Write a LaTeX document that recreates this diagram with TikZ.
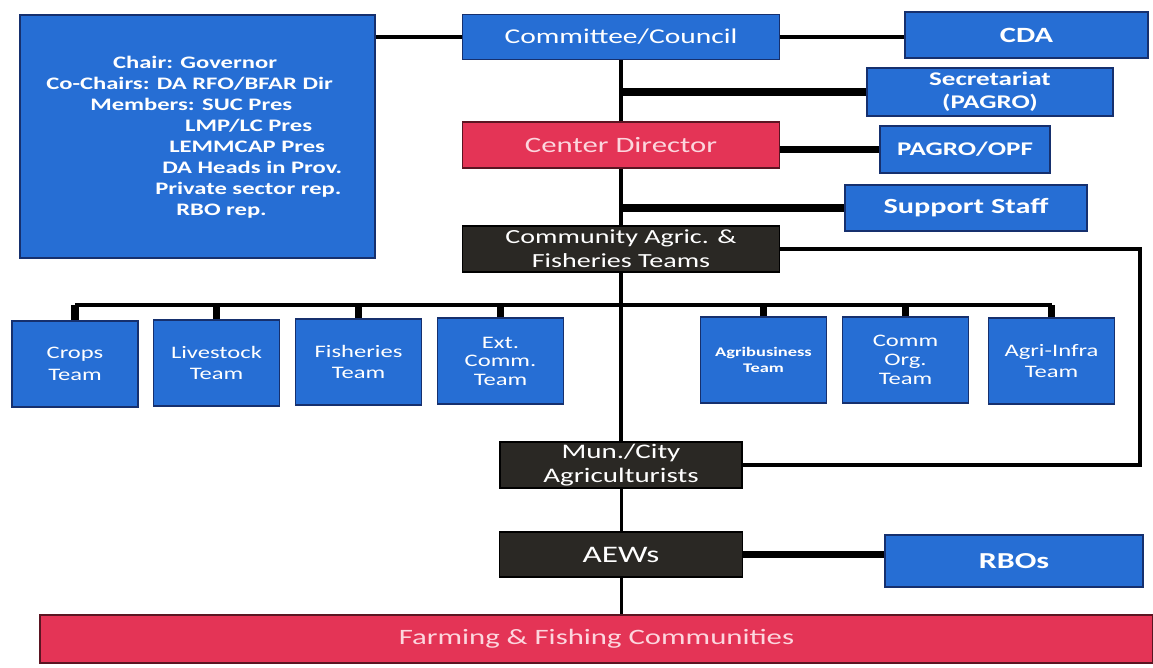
\documentclass[tikz,border=0pt]{standalone}
\usepackage{fontspec}
\setmainfont{Carlito}[FakeStretch=1.4]
\usepackage{xcolor}
\definecolor{boxblue}{RGB}{38,110,212}
\definecolor{edgeblue}{RGB}{22,48,110}
\definecolor{boxred}{RGB}{228,52,86}
\definecolor{boxdark}{RGB}{42,40,36}
\definecolor{paletext}{RGB}{252,214,222}
\tikzset{
    tbox/.style = {align=center, inner sep=0pt, text centered, text=white},
    blue_box/.style = {tbox, rectangle, draw=edgeblue, fill=boxblue, line width=0.8pt},
    red_box/.style = {tbox, rectangle, draw=black!60!boxred, fill=boxred, line width=0.8pt, text=paletext},
    dark_box/.style = {tbox, rectangle, draw=black, fill=boxdark, line width=0.8pt},
    team_box/.style = {blue_box, minimum width=2.52cm, minimum height=1.72cm, font=\fontsize{10}{12.3}\selectfont}
}
\tikzset{
    link/.style = {line width=2pt},
    trunk/.style = {line width=2.6pt},
    thin_trunk/.style = {line width=1.7pt},
    branch/.style = {line width=4pt}
}
\begin{document}
\begin{tikzpicture}[x=0.02cm, y=-0.02cm, line join=miter]
    \useasboundingbox (0,0) rectangle (1153,668);
    \node [blue_box, minimum width=7.1cm, minimum height=4.86cm] (board) at (197.5,136.5) {};
    \node [tbox, anchor=north west, align=left, font=\bfseries\fontsize{10}{11.9}\selectfont] (members) at (46,56)
        {\hspace*{38pt}Chair: Governor\\
         Co-Chairs: DA RFO/BFAR Dir\\
         \hspace*{25pt}Members: SUC Pres\\
         \hspace*{79pt}LMP/LC Pres\\
         \hspace*{70pt}LEMMCAP Pres\\
         \hspace*{66pt}DA Heads in Prov.\\
         \hspace*{62pt}Private sector rep.\\
         \hspace*{74pt}RBO rep.};
    \node [blue_box, minimum width=6.34cm, minimum height=0.9cm, font=\fontsize{12}{14}\selectfont] (council) at (621,37) {Committee/Council};
    \node [blue_box, minimum width=4.86cm, minimum height=0.92cm, font=\bfseries\fontsize{12.4}{14}\selectfont] (cda) at (1026.5,35) {CDA};
    \node [blue_box, minimum width=4.92cm, minimum height=0.96cm, font=\bfseries\fontsize{11}{13}\selectfont] (secretariat) at (990,92) {Secretariat\\(PAGRO)};
    \node [red_box, minimum width=6.34cm, minimum height=0.92cm, font=\fontsize{12.5}{14}\selectfont] (director) at (621,145) {Center Director};
    \node [blue_box, minimum width=3.4cm, minimum height=0.94cm, font=\bfseries\fontsize{11}{13}\selectfont] (pagro) at (965,149.5) {PAGRO/OPF};
    \node [blue_box, minimum width=4.84cm, minimum height=0.92cm, font=\bfseries\fontsize{12.3}{14}\selectfont] (support) at (966,208) {Support Staff};
    \node [dark_box, minimum width=6.34cm, minimum height=0.92cm, font=\fontsize{11.4}{13.5}\selectfont] (teams) at (621,249) {Community Agric. \&\\Fisheries Teams};
    \node [team_box] (crops) at (75,364) {Crops\\Team};
    \node [team_box] (livestock) at (216.5,363) {Livestock\\Team};
    \node [team_box] (fisheries) at (358.5,362) {Fisheries\\Team};
    \node [team_box, font=\fontsize{10}{10.5}\selectfont] (extcomm) at (500.5,361) {Ext.\\Comm.\\Team};
    \node [team_box, font=\bfseries\fontsize{7.5}{9.5}\selectfont] (agribiz) at (763.5,360) {Agribusiness\\Team};
    \node [team_box, font=\fontsize{10}{11}\selectfont] (commorg) at (905.5,360) {Comm\\Org.\\Team};
    \node [team_box] (agriinfra) at (1051.5,361) {Agri-Infra\\Team};
    \node [dark_box, minimum width=4.84cm, minimum height=0.92cm, font=\fontsize{11.8}{13.2}\selectfont] (mun) at (621,465) {Mun./City\\Agriculturists};
    \node [dark_box, minimum width=4.86cm, minimum height=0.9cm, font=\fontsize{13.5}{15}\selectfont] (aews) at (621,554.5) {AEWs};
    \node [blue_box, minimum width=5.16cm, minimum height=1.04cm, font=\bfseries\fontsize{13}{15}\selectfont] (rbos) at (1014,561) {RBOs};
    \node [red_box, minimum width=22.26cm, minimum height=0.96cm, font=\fontsize{12.5}{14}\selectfont] (farming) at (596.5,639) {Farming \& Fishing Communities};
    \coordinate (bus) at (621,305);
    \coordinate (loop) at (1140,360);
    \draw [link] (board.east |- council.west) -- (council.west);
    \draw [link] (council.east) -- (cda.west |- council.east);
    \draw [trunk] (council.south) -- (director.north);
    \draw [branch] (secretariat.west) -- (secretariat.west -| council.south);
    \draw [branch] (pagro.west) -- (pagro.west -| director.east);
    \draw [trunk] (director.south) -- (teams.north);
    \draw [branch] (support.west) -- (support.west -| director.south);
    \draw [trunk] (teams.south) -- (mun.north);
    \draw [link] (crops.north |- bus) -- (agriinfra.north |- bus);
    \foreach \t in {crops,livestock,fisheries,extcomm,agribiz,commorg,agriinfra}
        \draw [branch] (\t.north) -- (\t.north |- bus);
    \draw [link] (teams.east) -| (loop) |- (mun.east);
    \draw [thin_trunk] (mun.south) -- (aews.north);
    \draw [branch] (aews.east) -- (rbos.west |- aews.east);
    \draw [thin_trunk] (aews.south) -- (aews.south |- farming.north);
\end{tikzpicture}
\end{document}
